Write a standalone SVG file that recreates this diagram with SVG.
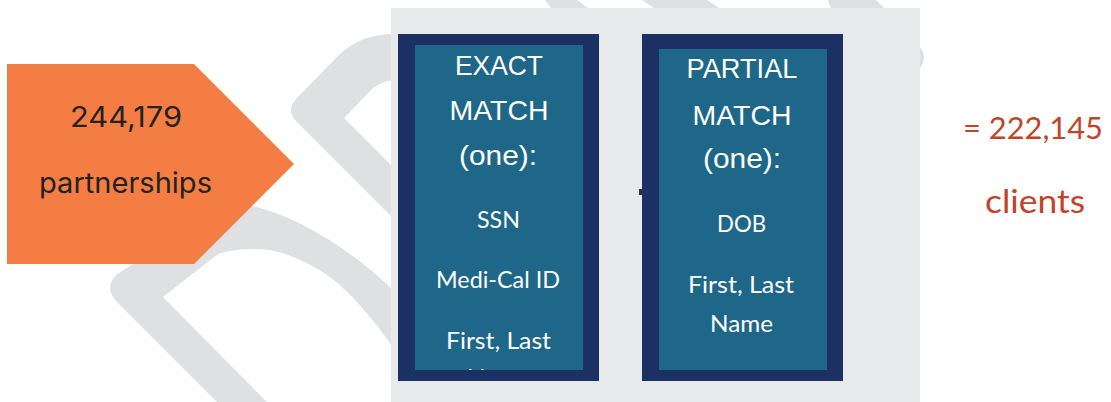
<svg xmlns="http://www.w3.org/2000/svg" width="1111" height="402" viewBox="0 0 1111 402">
<style>
.band{fill:#DFE0E2}
.panel{fill:#E8E9EB}
.outer{fill:#1B3163}
.inner{fill:#1F6788}
.head{font-family:"Liberation Sans",Arial,sans-serif;font-size:27.5px;fill:#FFFFFF;text-anchor:middle}
.item{font-family:Lato,"Source Sans Pro","Noto Sans",sans-serif;font-size:24px;fill:#FFFFFF;text-anchor:middle}
.lbl{font-family:Inter,"Liberation Sans",sans-serif;font-size:28px;fill:#222222;text-anchor:middle}
.res{font-family:Lato,"Source Sans Pro","Noto Sans",sans-serif;fill:#C0442A}
</style>
<defs>
<clipPath id="clipL"><rect x="415" y="45" width="168" height="325"/></clipPath>
</defs>
<g id="background">
<path class="band" d="M395,34 C372,34 356,40 340,54 L296,99 Q286,110 296,121 L395,220 L395,169 L344,118 L370,91 Q379,81 395,80 Z"/>
<path class="band" d="M230,202 Q260,205 297,222 Q350,248 395,292 L395,350 Q360,300 330,277 Q300,256 270,250 Q240,247 218,254 L163,297 L267,402 L217,402 L116,301 Q104,288 116,275 Z"/>
<polygon class="band" points="545,0 577,0 588,8 551,8"/>
<polygon class="band" points="642,0 707,0 719,8 654,8"/>
<polygon class="band" points="828,0 876,0 884,8 831,8"/>
<path class="band" d="M918,45 Q930,57 918,70 Z"/>
</g>
<g id="panel">
<rect class="panel" x="391" y="8" width="529" height="394"/>
</g>
<g id="source">
<polygon points="7,64 194,64 294,164 194,264 7,264" fill="#F47D43"/>
<text class="lbl" x="126" y="127" textLength="112" lengthAdjust="spacingAndGlyphs">244,179</text>
<text class="lbl" x="125.5" y="193" textLength="173" lengthAdjust="spacingAndGlyphs">partnerships</text>
</g>
<g id="exact-match">
<rect class="outer" x="398" y="34" width="201" height="347"/>
<rect class="inner" x="415" y="45" width="168" height="325"/>
<text class="head" x="499" y="75" textLength="88" lengthAdjust="spacingAndGlyphs">EXACT</text>
<text class="head" x="499" y="120" textLength="99" lengthAdjust="spacingAndGlyphs">MATCH</text>
<text class="head" x="498" y="165" textLength="78" lengthAdjust="spacingAndGlyphs">(one):</text>
<text class="item" x="498.5" y="228" textLength="43" lengthAdjust="spacingAndGlyphs">SSN</text>
<text class="item" x="498" y="288" textLength="124" lengthAdjust="spacingAndGlyphs">Medi-Cal ID</text>
<g clip-path="url(#clipL)">
<text class="item" x="498.5" y="349" textLength="105" lengthAdjust="spacingAndGlyphs">First, Last</text>
<text class="item" x="498.5" y="386" textLength="63" lengthAdjust="spacingAndGlyphs">Name</text>
</g>
</g>
<g id="partial-match">
<rect class="outer" x="642" y="34" width="201" height="347"/>
<rect class="inner" x="659" y="49" width="168" height="321"/>
<text class="head" x="742" y="78" textLength="111" lengthAdjust="spacingAndGlyphs">PARTIAL</text>
<text class="head" x="742" y="125" textLength="99" lengthAdjust="spacingAndGlyphs">MATCH</text>
<text class="head" x="742" y="168" textLength="78" lengthAdjust="spacingAndGlyphs">(one):</text>
<text class="item" x="741.5" y="232" textLength="49" lengthAdjust="spacingAndGlyphs">DOB</text>
<text class="item" x="741" y="293" textLength="106" lengthAdjust="spacingAndGlyphs">First, Last</text>
<text class="item" x="741.5" y="332" textLength="63" lengthAdjust="spacingAndGlyphs">Name</text>
</g>
<g id="connectors">
<rect x="639" y="189" width="3" height="6" fill="#333333"/>
</g>
<g id="result">
<text class="res" x="963" y="139" font-size="31" textLength="140" lengthAdjust="spacingAndGlyphs">= 222,145</text>
<text class="res" x="985" y="213" font-size="33" textLength="100" lengthAdjust="spacingAndGlyphs">clients</text>
</g>
</svg>
